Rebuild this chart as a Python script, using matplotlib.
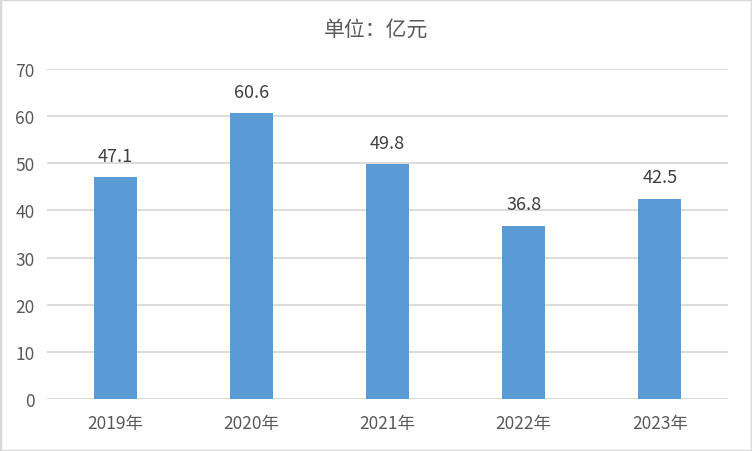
import matplotlib
matplotlib.use("Agg")
import matplotlib.pyplot as plt
from matplotlib.patches import Rectangle

plt.rcParams['font.family'] = ['Noto Sans CJK SC', 'DejaVu Sans']

categories = ["2019年", "2020年", "2021年", "2022年", "2023年"]
values = [47.1, 60.6, 49.8, 36.8, 42.5]
yticks = [0, 10, 20, 30, 40, 50, 60, 70]
title = "单位：亿元"

fig = plt.figure(figsize=(7.52, 4.52), dpi=100)
ax = fig.add_axes([47/752, 52/452, (728-47)/752, 330/452])

x = list(range(len(categories)))
ax.bar(x, values, width=0.316, color="#5B9BD5", zorder=3)
for xi, v in zip(x, values):
    ax.text(xi, v + 2.6, f"{v}", ha="center", va="bottom", fontsize=13, color="#404040")

ax.set_xlim(-0.5, len(categories) - 0.5)
ax.set_ylim(0, 70)
ax.set_yticks(yticks)
ax.set_xticks(x)
ax.set_xticklabels(categories)
ax.tick_params(axis="both", length=0, labelsize=12.5, colors="#595959")
ax.tick_params(axis="y", pad=9)
ax.tick_params(axis="x", pad=11)
ax.grid(axis="y", color="#d9d9d9", linewidth=1.3, zorder=0)
for s in ax.spines.values():
    s.set_visible(False)

fig.text(0.5, 1 - 30/452, title, ha="center", va="center", fontsize=15, color="#595959")

fig.patches.append(Rectangle((0, 0), 1, 1, transform=fig.transFigure, fill=False,
                             edgecolor="#d9d9d9", linewidth=2.5))

fig.savefig("out.png", dpi=100)
